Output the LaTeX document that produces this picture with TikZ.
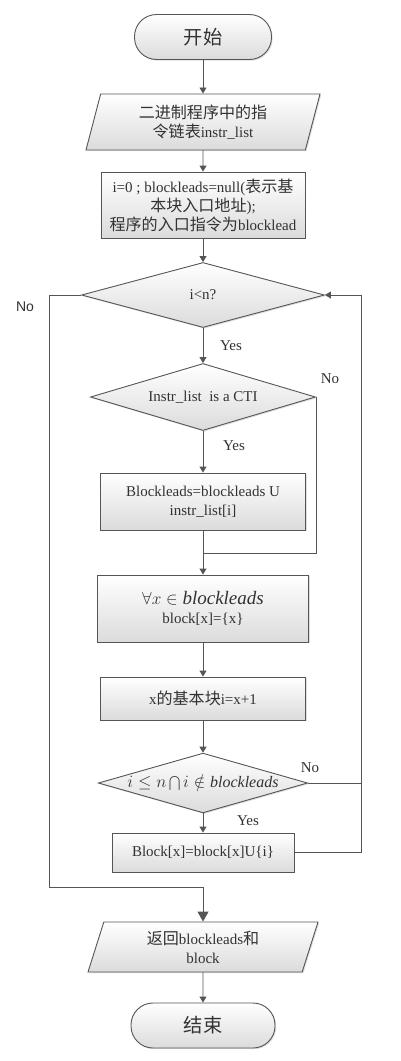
\documentclass[tikz,border=0pt]{standalone}
\usepackage{fontspec}
\setmainfont{Liberation Serif}
\newfontfamily\cjk{Noto Sans CJK SC}[Scale=1.07]
\newfontfamily\arialfont{Liberation Sans}
\usepackage{tikz}
\usetikzlibrary{arrows.meta,shapes.geometric,shadows}

\definecolor{linegray}{RGB}{85,85,85}
\definecolor{textgray}{RGB}{50,50,50}

\begin{document}
\begin{tikzpicture}[x=1pt,y=-1pt,
    every node/.style={text=textgray,font=\fontsize{15}{19}\selectfont},
    box/.style={draw=linegray,line width=0.9pt,top color=white,bottom color=black!14,
      drop shadow={shadow xshift=1.2pt,shadow yshift=-1.2pt,opacity=0.25},
      align=center,inner sep=0pt},
    proc/.style={box,rectangle},
    term/.style={box,rectangle,rounded corners=22pt},
    io/.style={box,trapezium,trapezium left angle=67,trapezium right angle=113,
      trapezium stretches body},
    dec/.style={box,diamond,aspect=3.5},
    line/.style={draw=linegray,line width=0.9pt},
    arr/.style={line,-{Triangle[width=7pt,length=6pt]}},
    bigarr/.style={line,-{Triangle[width=11pt,length=10pt]}}]
    \useasboundingbox (0,0) rectangle (400,1061);

    \node (start) at (203,37) [term,minimum width=137pt,minimum height=45pt] {{\cjk\fontsize{18}{20}\selectfont 开始}};
    \node (input) at (203,122) [io,minimum width=234pt,minimum height=56pt] {{\cjk 二进制程序中的指}\\{\cjk 令链表}instr\_list};
    \node (init) at (203,205) [proc,minimum width=204pt,minimum height=66pt] {i=0 ; blockleads=null({\cjk 表示基}\\{\cjk 本块入口地址});\\{\cjk 程序的入口指令为}blocklead};
    \node (cond1) at (203,295) [dec,minimum width=243pt,minimum height=65pt] {i<n?};
    \node (cond2) at (203,397) [dec,minimum width=225pt,minimum height=67pt] {Instr\_list\ \ is a CTI};
    \node (add) at (203,501.5) [proc,minimum width=205pt,minimum height=57pt] {Blockleads=blockleads U\\instr\_list[i]};
    \node (initblk) at (203,608.5) [proc,minimum width=211pt,minimum height=67pt] {{\fontsize{19}{22}\selectfont $\forall x\in \mathit{blockleads}$}\\block[x]=\{x\}};
    \node (nextblk) at (203,698.5) [proc,minimum width=205pt,minimum height=43pt] {x{\cjk 的基本块}i=x+1};
    \node (cond3) at (203,783) [dec,minimum width=203pt,minimum height=55pt] {{\fontsize{16}{18}\selectfont $i\le n\,{\displaystyle\bigcap}\,i\notin \mathit{blockleads}$}};
    \node (addi) at (203,852.5) [proc,minimum width=182pt,minimum height=39pt] {Block[x]=block[x]U\{i\}};
    \node (output) at (203,947) [io,trapezium left angle=64,trapezium right angle=116,minimum width=230pt,minimum height=50pt] {{\cjk 返回}blockleads{\cjk 和}\\block};
    \node (stop) at (203,1025.5) [term,minimum width=144pt,minimum height=45pt] {{\cjk\fontsize{18}{20}\selectfont 结束}};

    \coordinate (merge) at (203,553);
    \coordinate (back) at (361,852.5);
    \coordinate (exit) at (49,887);

    \node (no1) at (25,307) [font=\arialfont\fontsize{14}{16}\selectfont] {No};
    \node (yes1) at (231,346) {Yes};
    \node (no2) at (330,379) {No};
    \node (yes2) at (234,446) {Yes};
    \node (no3) at (310,768) {No};
    \node (yes3) at (248,821) {Yes};

    \draw[arr] (start) to (input);
    \draw[arr] (input) to (init);
    \draw[arr] (init) to (cond1);
    \draw[arr] (cond1) to (cond2);
    \draw[arr] (cond2) to (add);
    \draw[line] (add) to (merge);
    \draw[line] (cond2.east) |- (merge);
    \draw[arr] (merge) to (initblk);
    \draw[arr] (initblk) to (nextblk);
    \draw[arr] (nextblk) to (cond3);
    \draw[arr] (cond3) to (addi);
    \draw[line] (cond3.east) to (cond3.east -| back);
    \draw[arr] (addi.east) -- (back) |- (cond1.east);
    \draw[bigarr] (cond1.west) -| (exit) -| (output.north);
    \draw[arr] (output) to (stop);
  \end{tikzpicture}
\end{document}
